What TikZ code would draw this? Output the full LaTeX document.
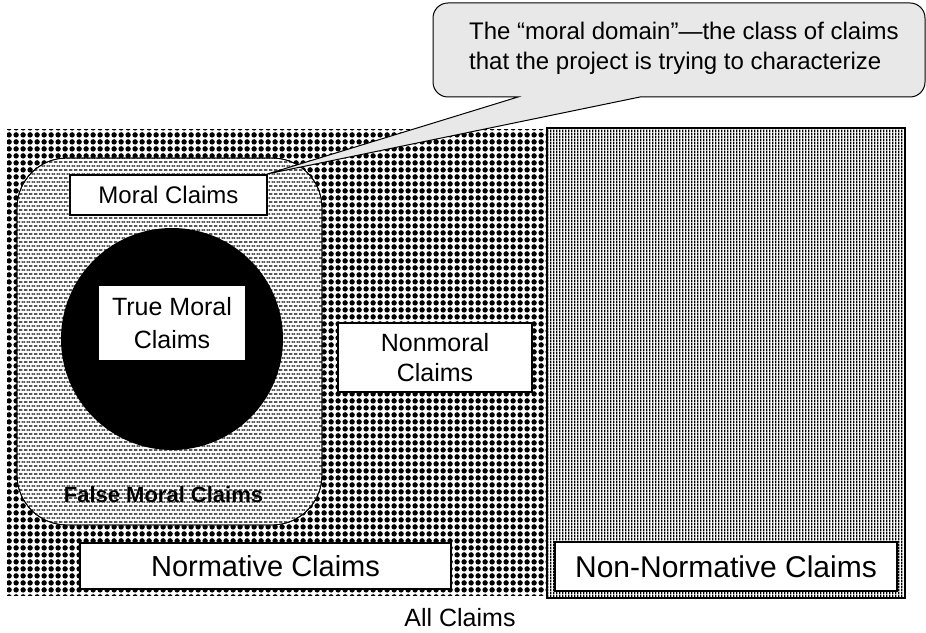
\documentclass[tikz,border=0pt]{standalone}
\usepackage{fontspec}
\setmainfont{Liberation Sans}
\usetikzlibrary{patterns}
\pgfdeclarepatternformonly{cdots}{\pgfpointorigin}{\pgfpoint{6.6pt}{6.6pt}}{\pgfpoint{6.6pt}{6.6pt}}{%
  \pgfpathcircle{\pgfpoint{3.3pt}{3.3pt}}{2.85pt}\pgfusepath{fill}}
\pgfdeclarepatternformonly{cdashes}{\pgfpointorigin}{\pgfpoint{4.8pt}{8.4pt}}{\pgfpoint{4.8pt}{8.4pt}}{%
  \pgfpathrectangle{\pgfpoint{0.2pt}{1.6pt}}{\pgfpoint{3.3pt}{1.2pt}}%
  \pgfpathrectangle{\pgfpoint{2.6pt}{5.8pt}}{\pgfpoint{2.2pt}{1.2pt}}%
  \pgfpathrectangle{\pgfpoint{0pt}{5.8pt}}{\pgfpoint{1.1pt}{1.2pt}}%
  \pgfusepath{fill}}
\pgfdeclarepatternformonly{cvlines}{\pgfpointorigin}{\pgfpoint{3.2pt}{3pt}}{\pgfpoint{3.2pt}{3pt}}{%
  \pgfpathrectangle{\pgfpointorigin}{\pgfpoint{1.6pt}{3pt}}\pgfusepath{fill}}
\newcommand\myfs[2]{\fontsize{#1}{#2}\selectfont}
\tikzset{
  labelbox/.style={draw, fill=white, inner sep=0pt, align=center},
  plainlabel/.style={inner sep=0pt, align=center},
}
\begin{document}
\begin{tikzpicture}[x=1pt,y=1pt]
\useasboundingbox (0,0) rectangle (926,632);
% All claims regions
\fill[pattern=cdots, pattern color=black] (7,37) rectangle (546,502);
\fill[pattern=cvlines, pattern color=black] (547,34) rectangle (905,504);
\draw[line width=2.5pt] (547,34) rectangle (905,504);
% moral region
\draw[line width=0.8pt, fill=white, rounded corners=50pt] (17,107) rectangle (322,474);
\fill[pattern=cdashes, pattern color=black, rounded corners=50pt] (17,107) rectangle (322,474);
\draw[line width=0.8pt, rounded corners=50pt] (17,107) rectangle (322,474);
% true moral claims circle
\fill[black] (172,293) circle[radius=111];
% labels
\node[labelbox, line width=2.5pt, minimum width=197pt, minimum height=40pt, font=\myfs{24}{28}] (moral) at (168.5,437) {Moral Claims};
\node[plainlabel, fill=white, minimum width=146pt, minimum height=74pt, font=\myfs{25}{33}] (truemoral) at (172,309) {True Moral\\Claims};
\node[labelbox, line width=2pt, minimum width=194pt, minimum height=69pt, font=\myfs{25}{30}] (nonmoral) at (435,274.5) {Nonmoral\\Claims};
\node[plainlabel, font=\myfs{22}{26}\bfseries] (falsemoral) at (163.5,137) {False Moral Claims};
\node[labelbox, line width=1.5pt, minimum width=371pt, minimum height=46pt, font=\myfs{29}{34}] (normative) at (265.5,66) {Normative Claims};
\node[labelbox, line width=1.5pt, minimum width=342pt, minimum height=49pt, font=\myfs{30}{35}] (nonnormative) at (726,65.5) {Non-Normative Claims};
\node[plainlabel, font=\myfs{25}{30}] (all) at (460,14) {All Claims};
% speech bubble
\draw[line width=1pt, fill=black!9]
  (448,629) -- (910,629) arc[start angle=90,end angle=0,radius=15]
  -- (925,550) arc[start angle=0,end angle=-90,radius=15]
  -- (640,535) -- (moral.north east) -- (518,535)
  -- (448,535) arc[start angle=270,end angle=180,radius=15]
  -- (433,614) arc[start angle=180,end angle=90,radius=15] -- cycle;
\node[inner sep=0pt, anchor=west, align=left, font=\myfs{24}{30}] (bubbletext) at (469,584)
  {The “moral domain”—the class of claims\\that the project is trying to characterize};
\end{tikzpicture}
\end{document}
